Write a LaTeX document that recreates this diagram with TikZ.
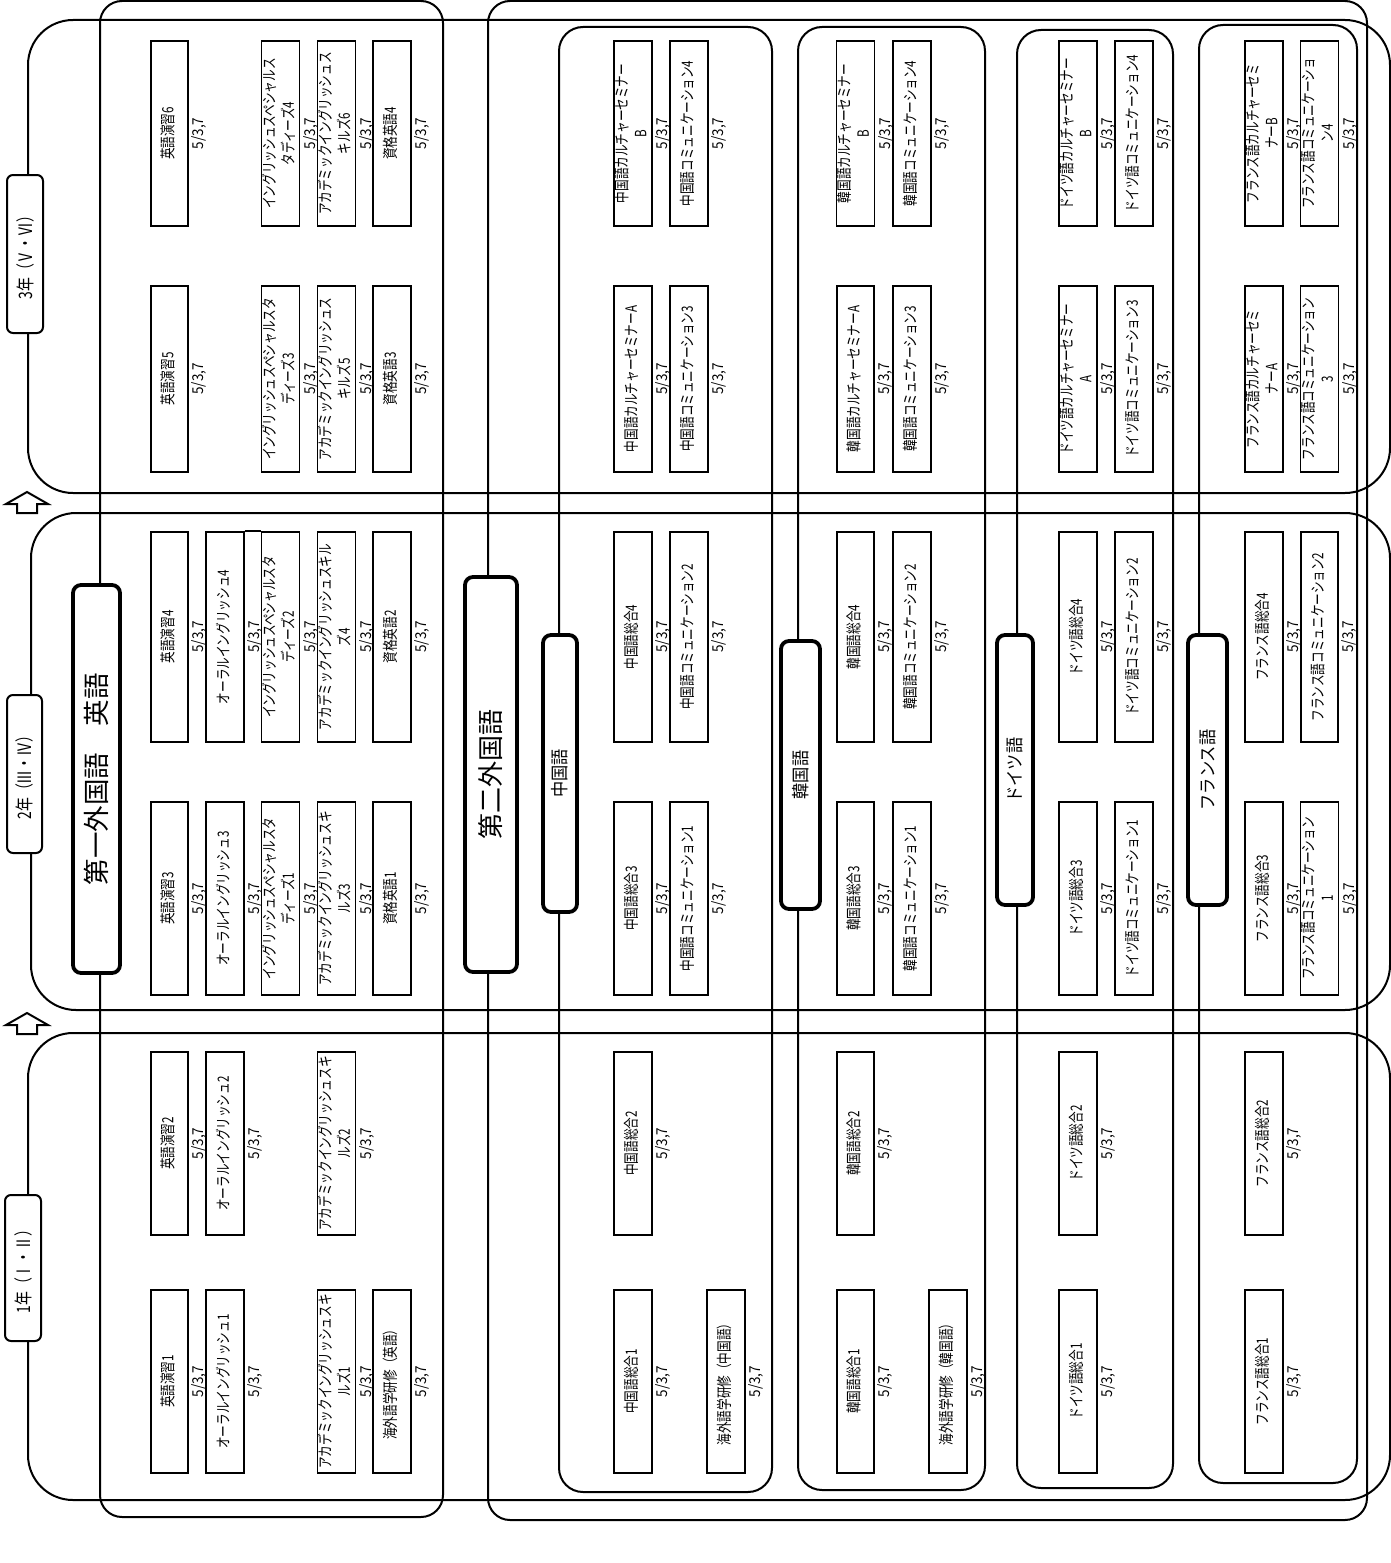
\documentclass[tikz,border=0pt]{standalone}
\usepackage{fontspec}
\usepackage{graphicx}
\setmainfont{Noto Sans CJK JP}
\newfontfamily\jpn[FakeStretch=0.75]{Noto Sans CJK JP}
\newfontfamily\jpm[FakeStretch=0.9]{Noto Sans CJK JP}
\usetikzlibrary{positioning}
\tikzset{
  band/.style={draw, line width=2pt, rounded corners=45pt},
  grp/.style={draw, line width=2pt, rounded corners=22pt},
  lang/.style={draw, line width=2pt, rounded corners=24pt},
  yr/.style={draw, fill=white, line width=2pt, rounded corners=6pt, inner sep=0pt, font=\jpn\fontsize{18.5}{20}\selectfont},
  hdr/.style={draw, fill=white, line width=3.8pt, rounded corners=8pt, inner sep=0pt},
  crs/.style={draw, fill=white, rectangle, line width=1.8pt, minimum width=37.5pt, inner sep=0pt, font=\jpn\fontsize{15.5}{19}\selectfont},
  cred/.style={inner sep=2.5pt, font=\jpm\fontsize{15}{16}\selectfont},
  upar/.style={draw, line width=2pt, line join=miter},
}
\newcommand{\course}[5]{%
  \node[crs, minimum height=#4] (#1) at (#2,#3)
    {\rotatebox{90}{\begin{tabular}{@{}c@{}}#5\end{tabular}}};
  \node[cred, right=0pt of #1] (#1-c) {\rotatebox{90}{5/3,7}};
}

\begin{document}
\begin{tikzpicture}[x=1pt, y=-1pt]
\useasboundingbox (0,0) rectangle (1391,1563);

% Year bands
\draw[band] (28,20) rectangle (1390,493);
\draw[band] (31,513) rectangle (1390,1010);
\draw[band] (28,1033) rectangle (1390,1500);

% Language groups
\draw[grp] (100,1) rectangle (443,1517);
\draw[grp] (488,1) rectangle (1367,1520);
\foreach \xa/\ya/\xb/\yb in {559/27/772/1492, 798/27/985/1490,
    1017/30/1173/1488, 1199/25/1357/1483}
  \draw[lang] (\xa,\ya) rectangle (\xb,\yb);

% Year labels
\node[yr, minimum width=36pt, minimum height=158pt] (y3) at (25,254)
  {\rotatebox{90}{3年（Ⅴ・Ⅵ）}};
\node[yr, minimum width=35pt, minimum height=158pt] (y2) at (24.5,774)
  {\rotatebox{90}{2年（Ⅲ・Ⅳ）}};
\node[yr, minimum width=36pt, minimum height=146pt] (y1) at (23,1268)
  {\rotatebox{90}{1年（Ⅰ・Ⅱ）}};

% Up arrows between years
\foreach \ay in {492,1013}
  \draw[upar] (27,\ay) -- (48,\ay+12) -- (37,\ay+12) -- (37,\ay+21)
    -- (17,\ay+21) -- (17,\ay+12) -- (6,\ay+12) -- cycle;

% Group headers
\node[hdr, minimum width=47pt, minimum height=388pt] (hen) at (96.5,779)
  {\rotatebox{90}{\fontsize{26.5}{30}\selectfont 第一外国語　英語}};
\node[hdr, minimum width=52pt, minimum height=395pt] (hfl) at (491,774.5)
  {\rotatebox{90}{\fontsize{26}{30}\selectfont 第二外国語}};
\foreach \nm/\xx/\yy/\ww/\hh/\tx in {hzh/560/773.5/34/277/中国語,
    hko/800.5/775/39/268/韓国語, hde/1015/770/36/270/ドイツ語,
    hfr/1207.5/770/39/270/フランス語}
  \node[hdr, minimum width=\ww pt, minimum height=\hh pt] (\nm) at (\xx,\yy)
    {\rotatebox{90}{\jpm\fontsize{18}{20}\selectfont \tx}};

% 3rd year
\foreach \nm/\xx/\tx in {e6/169.5/英語演習6,
    iss4/280.5/イングリッシュスペシャルス\\タディーズ4,
    aes6/336.5/アカデミックイングリッシュス\\キルズ6, q4/392/資格英語4,
    zhb/633/中国語カルチャーセミナー\\B, zhc4/689/中国語コミュニケーション4,
    kob/855.5/韓国語カルチャーセミナー\\B, koc4/912/韓国語コミュニケーション4,
    deb/1078/ドイツ語カルチャーセミナー\\B, dec4/1134/ドイツ語コミュニケーション4,
    frb/1264/フランス語カルチャーセミ\\ナーB, frc4/1319.5/フランス語コミュニケーショ\\ン4}
  {\course{\nm}{\xx}{133.5}{185pt}{\tx}}
\foreach \nm/\xx/\tx in {e5/169.5/英語演習5,
    iss3/280.5/イングリッシュスペシャルスタ\\ディーズ3,
    aes5/336.5/アカデミックイングリッシュス\\キルズ5, q3/392/資格英語3,
    zha/633/中国語カルチャーセミナーA, zhc3/689/中国語コミュニケーション3,
    koa/855.5/韓国語カルチャーセミナーA, koc3/912/韓国語コミュニケーション3,
    dea/1078/ドイツ語カルチャーセミナー\\A, dec3/1134/ドイツ語コミュニケーション3,
    fra/1264/フランス語カルチャーセミ\\ナーA, frc3/1319.5/フランス語コミュニケーション\\3}
  {\course{\nm}{\xx}{379}{186pt}{\tx}}

% 2nd year
\foreach \nm/\xx/\tx in {e4/169.5/英語演習4, oral4/225/オーラルイングリッシュ4,
    iss2/280.5/イングリッシュスペシャルスタ\\ディーズ2,
    aes4/336.5/アカデミックイングリッシュスキル\\ズ4, q2/392/資格英語2,
    zh4/633/中国語総合4, zhc2/689/中国語コミュニケーション2,
    ko4/855.5/韓国語総合4, koc2/912/韓国語コミュニケーション2,
    de4/1078/ドイツ語総合4, dec2/1134/ドイツ語コミュニケーション2,
    fr4/1264/フランス語総合4, frc2/1319.5/フランス語コミュニケーション2}
  {\course{\nm}{\xx}{637}{210pt}{\tx}}
\foreach \nm/\xx/\tx in {e3/169.5/英語演習3, oral3/225/オーラルイングリッシュ3,
    iss1/280.5/イングリッシュスペシャルスタ\\ディーズ1,
    aes3/336.5/アカデミックイングリッシュスキ\\ルズ3, q1/392/資格英語1,
    zh3/633/中国語総合3, zhc1/689/中国語コミュニケーション1,
    ko3/855.5/韓国語総合3, koc1/912/韓国語コミュニケーション1,
    de3/1078/ドイツ語総合3, dec1/1134/ドイツ語コミュニケーション1,
    fr3/1264/フランス語総合3, frc1/1319.5/フランス語コミュニケーション\\1}
  {\course{\nm}{\xx}{898.5}{193pt}{\tx}}
\draw[line width=1.8pt] (oral4.north east) -- (iss2.north west);

% 1st year
\foreach \nm/\xx/\tx in {e2/169.5/英語演習2, oral2/225/オーラルイングリッシュ2,
    aes2/336.5/アカデミックイングリッシュスキ\\ルズ2,
    zh2/633/中国語総合2, ko2/855.5/韓国語総合2,
    de2/1078/ドイツ語総合2, fr2/1264/フランス語総合2}
  {\course{\nm}{\xx}{1143.5}{183pt}{\tx}}
\foreach \nm/\xx/\tx in {e1/169.5/英語演習1, oral1/225/オーラルイングリッシュ1,
    aes1/336.5/アカデミックイングリッシュスキ\\ルズ1, sen/392/海外語学研修（英語）,
    zh1/633/中国語総合1, szh/726/海外語学研修（中国語）,
    ko1/855.5/韓国語総合1, sko/948/海外語学研修（韓国語）,
    de1/1078/ドイツ語総合1, fr1/1264/フランス語総合1}
  {\course{\nm}{\xx}{1381.5}{183pt}{\tx}}

\end{tikzpicture}
\end{document}
